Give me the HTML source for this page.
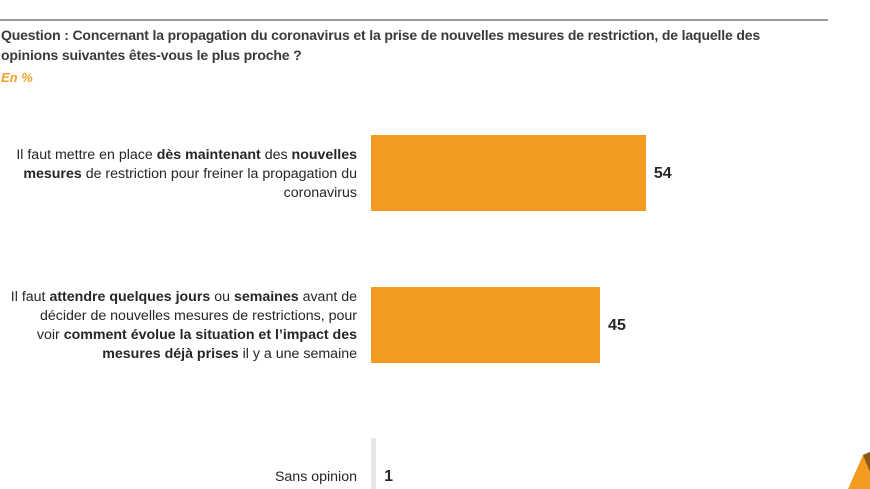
<!DOCTYPE html>
<html><head><meta charset="utf-8"><style>
body{margin:0;width:870px;height:489px;background:#fff;position:relative;overflow:hidden;font-family:"Liberation Sans",sans-serif;color:#262626}
.t{position:absolute;white-space:nowrap}
.lbl{position:absolute;right:513px;text-align:right;font-size:14.2px;line-height:19px;white-space:nowrap}
.val{position:absolute;font-weight:bold;font-size:16px}
</style></head><body>
<div style="position:absolute;left:0;top:19px;width:828px;height:2px;background:#9a9a9a"></div>
<div class="t" style="left:1px;top:25px;font-size:14px;font-weight:bold;line-height:20px;color:#3a3a3a;letter-spacing:-0.15px">Question : Concernant la propagation du coronavirus et la prise de nouvelles mesures de restriction, de laquelle des<br>opinions suivantes êtes-vous le plus proche ?</div>
<div class="t" style="left:1px;top:70px;font-size:13px;font-weight:bold;font-style:italic;color:#f0a030">En %</div>
<div class="lbl" style="top:146px">Il faut mettre en place <b>dès maintenant</b> des <b>nouvelles</b><br><b>mesures</b> de restriction pour freiner la propagation du<br>coronavirus</div>
<div class="lbl" style="top:288px">Il faut <b>attendre quelques jours</b> ou <b>semaines</b> avant de<br>décider de nouvelles mesures de restrictions, pour<br>voir <b>comment évolue la situation et l’impact des</b><br><b>mesures déjà prises</b> il y a une semaine</div>
<div class="lbl" style="top:468px">Sans opinion</div>
<div id="chart"></div>
<svg style="position:absolute;left:845px;top:452px" width="25" height="37"><polygon points="3,37 18,3 25,0 25,37" fill="#f39a21"/><polygon points="18,3 25,0 25,20" fill="#8a5a10"/></svg>
<script>
const categories=["now","wait","none"];
const values=[54,45,1];
const tops=[135,287,438];
const x0=371, scale=5.09, h=[76,76,51];
const c=document.getElementById('chart');
values.forEach((v,i)=>{
  const b=document.createElement('div');
  
  
  const w=v*scale;
  b.style.cssText=`position:absolute;left:${x0}px;top:${tops[i]}px;width:${w}px;height:${h[i]}px;background:${i==2?'#e6e6e6':'#f39a21'}`;
  c.appendChild(b);
  const t=document.createElement('div');
  
  
  t.className='val';
  t.textContent=v;
  t.style.left=(x0+w+8)+'px';
  t.style.top=(tops[i]+30)+'px';
  c.appendChild(t);
});
</script>
</body></html>
